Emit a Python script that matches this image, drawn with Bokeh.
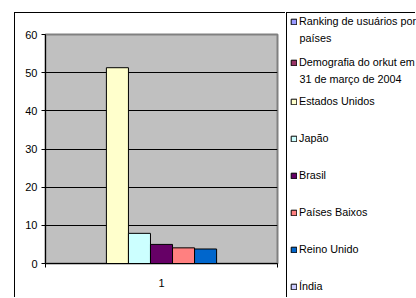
from bokeh.plotting import figure
from bokeh.models import Range1d, FixedTicker, Legend, LegendItem, ColumnDataSource, Label
from bokeh.core.properties import value
from bokeh.embed import file_html
from bokeh.resources import INLINE

# ---- data ----
series_names = [
    "Ranking de usuários por\npaíses",
    "Demografia do orkut em\n31 de março de 2004",
    "Estados Unidos",
    "Japão",
    "Brasil",
    "Países Baixos",
    "Reino Unido",
    "Índia",
]
series_values = [None, None, 51.3, 7.9, 5.0, 4.1, 3.8, None]
series_colors = ["#9999FF", "#993366", "#FFFFCC", "#CCFFFF", "#660066", "#FF8080", "#0066CC", "#CCCCFF"]
categories = ["1"]
y_ticks = [0, 10, 20, 30, 40, 50, 60]

FONT = "Liberation Sans"
LEG_FONT_SIZE = "10.8px"
NAN = float("nan")

# ---- chart ----
p = figure(width=271, height=285, output_backend="svg", toolbar_location=None,
           x_range=Range1d(0, 1), y_range=Range1d(0, 60),
           min_border_left=30, min_border_right=9, min_border_top=21, min_border_bottom=35)
p.styles = {"position": "absolute", "left": "14px", "top": "12px",
            "border-top": "1px solid black", "border-left": "1px solid black"}
p.background_fill_color = "#C0C0C0"
p.border_fill_color = "white"
p.outline_line_color = "#808080"
p.outline_line_width = 2

p.xgrid.visible = False
p.ygrid.ticker = FixedTicker(ticks=y_ticks)
p.ygrid.grid_line_color = "black"
p.ygrid.grid_line_width = 1

ya = p.yaxis[0]
ya.ticker = FixedTicker(ticks=y_ticks)
ya.axis_line_color = "black"
ya.major_tick_line_color = "black"
ya.major_tick_out = 4
ya.major_tick_in = 0
ya.minor_tick_line_color = None
ya.major_label_standoff = 4
ya.major_label_text_font = FONT
ya.major_label_text_font_size = "11px"
ya.major_label_text_color = "black"

xa = p.xaxis[0]
xa.ticker = FixedTicker(ticks=[0.5], minor_ticks=[0.0, 1.0])
xa.major_label_overrides = {0.5: categories[0]}
xa.axis_line_color = "black"
xa.major_tick_out = 0
xa.major_tick_in = 0
xa.minor_tick_line_color = "black"
xa.minor_tick_out = 4
xa.minor_tick_in = 0
xa.major_label_standoff = 11
xa.major_label_text_font = FONT
xa.major_label_text_font_size = "11px"
xa.major_label_text_color = "black"

bar_w = 0.095
n = len([v for v in series_values if v is not None])
k = 0
for name, val, col in zip(series_names, series_values, series_colors):
    if val is None:
        continue
    src = ColumnDataSource(dict(x=[0.5 + (k - (n - 1) / 2) * bar_w], top=[val]))
    k += 1
    p.vbar(x="x", top="top", bottom=0, width=bar_w, source=src,
           fill_color=col, line_color="black", line_width=1)

# ---- legend panel ----
LW, LH = 129, 285
lg = figure(width=LW, height=LH, output_backend="svg", toolbar_location=None,
            title=None, x_range=Range1d(0, LW), y_range=Range1d(0, LH),
            x_axis_location=None, y_axis_location=None, min_border=0)
lg.styles = {"position": "absolute", "left": "286px", "top": "12px",
             "border-top": "1px solid black", "border-left": "1px solid black"}
lg.outline_line_color = None
lg.grid.visible = False
lg.background_fill_color = "white"
lg.border_fill_color = "white"

GLYPH_X, GLYPH_W, STANDOFF, LINE_H = 3, 7, 2, 16

items = []
extra_lines = []
for name, col in zip(series_names, series_colors):
    lines = name.split("\n")
    r = lg.vbar(x=[NAN], top=[NAN], bottom=0, width=0.1, fill_color=col, line_color="black", line_width=1)
    items.append(LegendItem(label=value(lines[0]), renderers=[r]))
    extra_lines.append(lines[1:])

def style_legend(leg):
    leg.glyph_width = GLYPH_W
    leg.glyph_height = 7
    leg.label_height = LINE_H
    leg.label_standoff = STANDOFF
    leg.padding = 0
    leg.margin = 0
    leg.border_line_color = None
    leg.background_fill_alpha = 0
    leg.label_text_font = FONT
    leg.label_text_font_size = LEG_FONT_SIZE
    leg.label_text_color = "black"

# two-line entries (top block) and single-line entries (lower block)
A_TOP, A_SPACING = 0, 25
legA = Legend(items=items[:2], spacing=A_SPACING,
              location=(GLYPH_X, LH - (A_TOP + 2 * LINE_H + A_SPACING)))
style_legend(legA)
B_TOP, B_SPACING = 80, 21
legB = Legend(items=items[2:], spacing=B_SPACING,
              location=(GLYPH_X, LH - (B_TOP + 6 * LINE_H + 5 * B_SPACING)))
style_legend(legB)
lg.add_layout(legA)
lg.add_layout(legB)

# continuation lines of the wrapped labels
for i, rest in enumerate(extra_lines[:2]):
    first_center = A_TOP + LINE_H / 2 + i * (LINE_H + A_SPACING)
    for j, txt in enumerate(rest):
        lg.add_layout(Label(x=GLYPH_X + GLYPH_W + STANDOFF, y=LH - (first_center + (j + 1) * LINE_H),
                            text=txt, text_baseline="middle", text_align="left",
                            text_font=FONT, text_font_size=LEG_FONT_SIZE, text_color="black"))

open("out.html", "w").write(file_html([p, lg], INLINE))
